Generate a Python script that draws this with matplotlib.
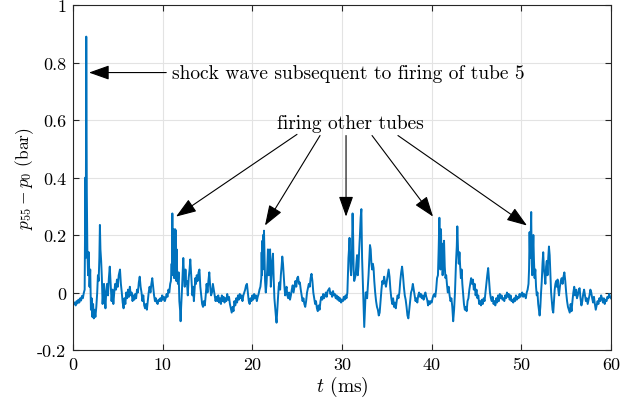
import matplotlib
matplotlib.use("Agg")
import matplotlib.pyplot as plt

plt.rcParams['font.family'] = ['cmr10', 'DejaVu Serif']
plt.rcParams['mathtext.fontset'] = 'cm'
plt.rcParams['axes.formatter.use_mathtext'] = True

# ---- data ----
t_ms = [
    0.00, 0.10, 0.20, 0.30, 0.40, 0.50, 0.60, 0.70, 0.80, 0.90, 1.00, 1.10, 1.20, 1.30,
    1.38, 1.42, 1.48, 1.54, 1.60, 1.68, 1.76, 1.84, 1.92, 2.00, 2.08, 2.16, 2.24, 2.32,
    2.40, 2.50, 2.60, 2.70, 2.78, 2.86, 2.94, 3.00, 3.06, 3.14, 3.22, 3.30, 3.38, 3.46,
    3.54, 3.62, 3.70, 3.80, 3.90, 4.00, 4.10, 4.20, 4.30, 4.40, 4.50, 4.60, 4.70, 4.80,
    4.90, 5.00, 5.10, 5.24, 5.34, 5.44, 5.54, 5.64, 5.74, 5.84, 5.94, 6.04, 6.14, 6.24,
    6.34, 6.44, 6.54, 6.64, 6.74, 6.84, 6.94, 7.04, 7.14, 7.24, 7.34, 7.44, 7.54, 7.64,
    7.74, 7.84, 7.94, 8.04, 8.14, 8.24, 8.34, 8.44, 8.54, 8.64, 8.74, 8.84, 8.94, 9.04,
    9.14, 9.24, 9.34, 9.44, 9.54, 9.64, 9.74, 9.84, 9.94, 10.04, 10.14, 10.24, 10.34,
    10.44, 10.54, 10.64, 10.74, 10.84, 10.92, 11.00, 11.04, 11.08, 11.12, 11.16, 11.20,
    11.24, 11.28, 11.32, 11.36, 11.40, 11.44, 11.48, 11.52, 11.56, 11.62, 11.70, 11.78,
    11.86, 11.94, 12.00, 12.06, 12.14, 12.22, 12.30, 12.38, 12.46, 12.54, 12.62, 12.70,
    12.80, 12.90, 13.00, 13.08, 13.16, 13.24, 13.32, 13.40, 13.48, 13.56, 13.64, 13.72,
    13.80, 13.90, 14.00, 14.10, 14.20, 14.30, 14.40, 14.50, 14.60, 14.70, 14.80, 14.90,
    15.00, 15.10, 15.20, 15.30, 15.40, 15.50, 15.60, 15.70, 15.80, 15.90, 16.00, 16.10,
    16.20, 16.30, 16.40, 16.50, 16.60, 16.70, 16.80, 16.90, 17.00, 17.10, 17.20, 17.30,
    17.40, 17.50, 17.60, 17.70, 17.80, 17.90, 18.00, 18.10, 18.20, 18.30, 18.40, 18.50,
    18.60, 18.70, 18.80, 18.90, 19.00, 19.10, 19.20, 19.30, 19.40, 19.50, 19.60, 19.70,
    19.80, 19.90, 20.00, 20.10, 20.20, 20.30, 20.40, 20.50, 20.60, 20.70, 20.80, 20.90,
    21.00, 21.04, 21.08, 21.12, 21.16, 21.20, 21.24, 21.30, 21.36, 21.42, 21.50, 21.58,
    21.66, 21.74, 21.82, 21.90, 21.98, 22.06, 22.14, 22.22, 22.30, 22.38, 22.46, 22.54,
    22.62, 22.70, 22.78, 22.86, 22.94, 23.02, 23.10, 23.18, 23.26, 23.34, 23.42, 23.50,
    23.58, 23.66, 23.74, 23.82, 23.90, 24.00, 24.10, 24.20, 24.30, 24.40, 24.50, 24.60,
    24.70, 24.80, 24.90, 25.00, 25.10, 25.20, 25.30, 25.40, 25.50, 25.60, 25.70, 25.80,
    25.90, 26.00, 26.10, 26.20, 26.30, 26.40, 26.50, 26.60, 26.70, 26.80, 26.90, 27.00,
    27.10, 27.20, 27.30, 27.40, 27.50, 27.60, 27.70, 27.80, 27.90, 28.00, 28.10, 28.20,
    28.30, 28.40, 28.50, 28.60, 28.70, 28.80, 28.90, 29.00, 29.10, 29.20, 29.30, 29.40,
    29.50, 29.60, 29.70, 29.80, 29.90, 30.00, 30.10, 30.20, 30.30, 30.40, 30.50, 30.60,
    30.66, 30.72, 30.78, 30.84, 30.90, 30.96, 31.02, 31.10, 31.18, 31.24, 31.30, 31.36,
    31.44, 31.52, 31.60, 31.68, 31.76, 31.84, 31.92, 32.00, 32.08, 32.16, 32.24, 32.32,
    32.40, 32.48, 32.56, 32.64, 32.72, 32.80, 32.88, 32.96, 33.04, 33.12, 33.20, 33.28,
    33.36, 33.44, 33.52, 33.60, 33.70, 33.80, 33.90, 34.00, 34.10, 34.20, 34.30, 34.40,
    34.50, 34.60, 34.70, 34.80, 34.90, 35.00, 35.10, 35.20, 35.30, 35.40, 35.50, 35.60,
    35.70, 35.80, 35.90, 36.00, 36.10, 36.20, 36.30, 36.40, 36.50, 36.60, 36.70, 36.80,
    36.90, 37.00, 37.10, 37.20, 37.30, 37.40, 37.50, 37.60, 37.70, 37.80, 37.90, 38.00,
    38.10, 38.20, 38.30, 38.40, 38.50, 38.60, 38.70, 38.80, 38.90, 39.00, 39.10, 39.20,
    39.30, 39.40, 39.50, 39.60, 39.70, 39.80, 39.90, 40.00, 40.10, 40.20, 40.30, 40.40,
    40.50, 40.60, 40.70, 40.78, 40.86, 40.92, 40.98, 41.04, 41.10, 41.16, 41.22, 41.30,
    41.38, 41.46, 41.54, 41.62, 41.70, 41.80, 41.90, 42.00, 42.10, 42.20, 42.30, 42.40,
    42.50, 42.60, 42.66, 42.72, 42.80, 42.86, 42.94, 43.02, 43.10, 43.18, 43.26, 43.34,
    43.42, 43.50, 43.60, 43.70, 43.80, 43.90, 44.00, 44.10, 44.20, 44.30, 44.40, 44.50,
    44.60, 44.70, 44.80, 44.90, 45.00, 45.10, 45.20, 45.30, 45.40, 45.50, 45.60, 45.70,
    45.80, 45.90, 46.00, 46.10, 46.20, 46.30, 46.40, 46.50, 46.60, 46.70, 46.80, 46.90,
    47.00, 47.10, 47.20, 47.30, 47.40, 47.50, 47.60, 47.70, 47.80, 47.90, 48.00, 48.10,
    48.20, 48.30, 48.40, 48.50, 48.60, 48.70, 48.80, 48.90, 49.00, 49.10, 49.20, 49.30,
    49.40, 49.50, 49.60, 49.70, 49.80, 49.90, 50.00, 50.10, 50.20, 50.30, 50.40, 50.50,
    50.60, 50.70, 50.80, 50.86, 50.92, 50.98, 51.04, 51.10, 51.16, 51.22, 51.28, 51.34,
    51.40, 51.48, 51.56, 51.64, 51.72, 51.80, 51.88, 51.96, 52.04, 52.12, 52.20, 52.28,
    52.36, 52.44, 52.52, 52.60, 52.68, 52.76, 52.84, 52.92, 53.00, 53.08, 53.16, 53.24,
    53.32, 53.40, 53.48, 53.56, 53.64, 53.72, 53.80, 53.88, 53.96, 54.04, 54.12, 54.20,
    54.30, 54.40, 54.50, 54.60, 54.70, 54.80, 54.90, 55.00, 55.10, 55.20, 55.30, 55.40,
    55.50, 55.60, 55.70, 55.80, 55.90, 56.00, 56.10, 56.20, 56.30, 56.40, 56.50, 56.60,
    56.70, 56.80, 56.90, 57.00, 57.10, 57.20, 57.30, 57.40, 57.50, 57.60, 57.70, 57.80,
    57.90, 58.00, 58.10, 58.20, 58.30, 58.40, 58.50, 58.60, 58.70, 58.80, 58.90, 59.00,
    59.10, 59.20, 59.30, 59.40, 59.50, 59.60, 59.70, 59.80, 59.90, 60.00,
]
p_bar = [
    -0.030, -0.040, -0.035, -0.045, -0.030, -0.038, -0.025, -0.035, -0.020, -0.028, -0.012, -0.020, -0.002, 0.010,
    0.400, 0.120, 0.890, 0.350, 0.150, 0.060, 0.140, 0.020, 0.080, -0.060, -0.020, -0.085, -0.040, -0.090,
    -0.060, -0.085, -0.050, 0.000, 0.060, 0.040, 0.120, 0.235, 0.150, 0.110, 0.050, -0.040, 0.000, 0.030,
    -0.020, -0.055, 0.000, 0.030, -0.010, 0.050, 0.090, 0.030, -0.030, 0.010, -0.040, 0.000, 0.030, 0.010,
    0.045, 0.020, 0.060, 0.080, 0.030, 0.000, -0.035, -0.055, -0.020, -0.040, 0.000, -0.020, 0.010, -0.015,
    0.020, -0.010, 0.000, -0.030, -0.010, -0.025, -0.005, -0.020, 0.010, 0.000, 0.035, 0.055, 0.020, 0.000,
    -0.030, -0.010, -0.045, -0.055, -0.040, -0.060, -0.030, 0.000, 0.020, 0.000, 0.030, 0.050, 0.020, -0.010,
    -0.030, -0.020, -0.035, -0.040, -0.025, -0.030, -0.020, -0.030, -0.010, -0.025, -0.015, -0.030, -0.020,
    -0.005, -0.015, 0.010, 0.000, 0.030, 0.040, 0.100, 0.060, 0.275, 0.080, 0.200, 0.060,
    0.220, 0.050, 0.210, 0.100, 0.220, 0.070, 0.215, 0.040, 0.150, 0.060, 0.030, 0.070,
    -0.030, -0.060, -0.100, -0.050, 0.000, 0.060, 0.120, 0.060, 0.020, 0.080, 0.030, 0.040,
    -0.010, 0.050, 0.080, 0.115, 0.070, 0.030, -0.010, 0.020, -0.030, 0.010, 0.050, 0.030,
    0.060, 0.040, 0.070, 0.080, 0.020, -0.010, -0.040, -0.050, -0.030, -0.045, -0.010, 0.030,
    0.000, 0.040, 0.070, 0.020, -0.010, 0.000, 0.030, 0.010, -0.010, -0.030, -0.015, -0.030,
    -0.010, -0.035, -0.020, -0.040, -0.010, -0.030, -0.015, -0.035, -0.020, -0.030, -0.005, -0.025,
    -0.015, -0.040, -0.055, -0.070, -0.050, -0.065, -0.030, -0.045, -0.020, -0.035, -0.010, -0.025,
    -0.005, -0.020, -0.010, -0.030, -0.010, 0.000, 0.010, 0.025, 0.030, 0.000, -0.030, -0.040,
    -0.020, -0.030, -0.010, -0.025, -0.005, -0.020, -0.010, -0.030, -0.015, -0.005, 0.010, 0.020,
    0.050, 0.140, 0.060, 0.180, 0.080, 0.200, 0.110, 0.215, 0.120, 0.040, 0.000, 0.030,
    0.080, 0.150, 0.060, 0.120, 0.150, 0.020, 0.060, 0.110, 0.135, 0.050, -0.020, -0.050,
    -0.080, -0.105, -0.060, -0.020, 0.020, 0.035, 0.010, 0.060, 0.090, 0.125, 0.100, 0.060,
    0.020, -0.010, 0.010, 0.020, -0.010, -0.020, 0.000, -0.025, -0.010, 0.010, 0.025, 0.000,
    0.020, 0.040, 0.020, 0.050, 0.055, 0.030, 0.035, 0.010, -0.010, -0.030, -0.020, -0.040,
    -0.050, -0.030, 0.000, 0.015, 0.030, 0.020, 0.050, 0.065, 0.040, 0.000, -0.020, -0.040,
    -0.030, -0.055, -0.065, -0.045, -0.060, -0.030, -0.015, -0.025, -0.005, -0.020, -0.010, 0.000,
    -0.015, 0.005, 0.010, 0.015, -0.005, 0.000, -0.015, 0.005, -0.010, -0.005, -0.020, -0.010,
    -0.025, -0.015, -0.030, -0.020, -0.035, -0.025, -0.030, -0.015, -0.025, -0.010, -0.020, 0.000,
    0.060, 0.120, 0.150, 0.190, 0.140, 0.080, 0.060, 0.120, 0.275, 0.200, 0.080, 0.040,
    0.050, 0.060, 0.100, 0.130, 0.060, 0.090, 0.150, 0.200, 0.260, 0.290, 0.120, 0.040,
    -0.050, -0.120, -0.060, 0.000, 0.000, -0.020, 0.020, 0.060, 0.110, 0.165, 0.150, 0.100,
    0.080, 0.100, 0.085, 0.040, 0.000, -0.030, -0.050, -0.060, -0.080, -0.070, -0.030, 0.010,
    0.040, 0.030, 0.055, 0.035, 0.020, 0.040, 0.060, 0.080, 0.055, 0.010, -0.020, -0.040,
    -0.020, -0.050, -0.035, -0.055, -0.030, -0.010, -0.020, 0.000, 0.040, 0.070, 0.090, 0.060,
    0.020, -0.010, -0.025, -0.050, -0.080, -0.090, -0.060, -0.030, 0.000, 0.010, 0.030, 0.010,
    -0.010, -0.030, -0.020, -0.035, -0.010, 0.000, -0.015, -0.005, -0.020, -0.010, -0.025, -0.010,
    0.000, -0.015, -0.025, -0.045, -0.030, -0.040, -0.030, -0.035, -0.020, -0.010, -0.005, -0.015,
    0.010, 0.050, 0.060, 0.150, 0.260, 0.160, 0.080, 0.220, 0.100, 0.170, 0.060, 0.120,
    0.180, 0.090, 0.050, 0.060, 0.030, 0.000, 0.020, -0.010, -0.030, -0.020, -0.050, -0.100,
    -0.060, 0.000, 0.060, 0.110, 0.160, 0.230, 0.150, 0.100, 0.140, 0.090, 0.050, 0.080,
    0.030, 0.000, -0.040, -0.060, -0.050, -0.065, -0.030, -0.020, 0.010, 0.030, 0.050, 0.030,
    0.045, 0.010, 0.030, -0.010, 0.010, -0.020, -0.010, -0.040, -0.030, -0.045, -0.025, -0.040,
    -0.020, -0.030, 0.000, 0.030, 0.060, 0.085, 0.040, 0.000, -0.020, -0.030, -0.015, -0.040,
    -0.030, -0.045, -0.020, -0.035, -0.010, -0.030, -0.005, -0.020, -0.010, -0.025, -0.020, -0.030,
    -0.010, -0.020, 0.000, -0.015, -0.005, -0.025, -0.010, -0.030, -0.025, -0.035, -0.020, -0.030,
    -0.010, -0.025, -0.015, -0.020, -0.005, -0.015, -0.005, 0.000, -0.015, -0.005, -0.010, -0.020,
    0.000, 0.010, 0.030, 0.080, 0.210, 0.120, 0.180, 0.280, 0.100, 0.060, 0.140, 0.200,
    0.120, 0.050, 0.080, 0.020, -0.010, 0.000, -0.040, -0.060, -0.080, -0.050, 0.000, 0.040,
    0.100, 0.140, 0.080, 0.060, 0.030, 0.090, 0.110, 0.060, 0.120, 0.160, 0.130, 0.060,
    0.000, -0.030, -0.060, -0.070, -0.030, 0.010, 0.030, 0.040, 0.020, 0.045, 0.010, -0.010,
    0.020, 0.040, 0.050, 0.030, 0.055, 0.070, 0.040, 0.000, -0.030, -0.050, -0.060, -0.070,
    -0.040, -0.065, -0.030, 0.000, 0.020, -0.010, 0.010, -0.020, -0.010, 0.010, 0.015, -0.020,
    -0.045, -0.030, -0.005, 0.010, -0.010, -0.030, -0.020, -0.040, -0.025, -0.010, 0.010, 0.000,
    -0.020, -0.035, -0.015, -0.040, -0.060, -0.045, -0.030, -0.040, -0.020, -0.030, -0.010, -0.020,
    -0.035, -0.020, -0.040, -0.025, -0.030, -0.015, -0.020, -0.005, -0.015, -0.020,
]

x_ticks = [0, 10, 20, 30, 40, 50, 60]
y_ticks = [-0.2, 0, 0.2, 0.4, 0.6, 0.8, 1]
y_tick_labels = ['-0.2', '0', '0.2', '0.4', '0.6', '0.8', '1']

# annotation anchors (data units)
shock_text = 'shock wave subsequent to firing of tube 5'
shock_tip = (1.78, 0.765)
shock_tail = (10.4, 0.765)
other_text = 'firing other tubes'
other_text_pos = (30.9, 0.588)
other_tails = [(24.98, 0.55), (27.55, 0.546), (30.45, 0.546), (33.35, 0.546), (36.24, 0.546)]
other_tips = [(11.49, 0.264), (21.41, 0.233), (30.45, 0.264), (40.15, 0.264), (50.63, 0.233)]

# ---- figure ----
fig = plt.figure(figsize=(6.2, 4.1), dpi=100)
ax = fig.add_axes([73 / 620, 59 / 410, 538 / 620, 345 / 410])

ax.plot(t_ms, p_bar, color='#0072BD', lw=1.4)

ax.set_xlim(0, 60)
ax.set_ylim(-0.2, 1)
ax.set_xticks(x_ticks)
ax.set_xticklabels([str(v) for v in x_ticks])
ax.set_yticks(y_ticks)
ax.set_yticklabels(y_tick_labels)
ax.grid(True, color='#e3e3e3', lw=0.8)
ax.set_axisbelow(True)
ax.tick_params(direction='in', top=True, right=True, length=4, width=0.8,
               labelsize=13, colors='#262626', labelcolor='black', pad=5)
for s in ax.spines.values():
    s.set_color('#262626')
    s.set_linewidth(0.8)

ax.set_xlabel(r'$t$ (ms)', fontsize=14, labelpad=1)
ax.set_ylabel(r'$p_{55} - p_0$ (bar)', fontsize=12.5, labelpad=1)

arrow_kw = dict(arrowstyle='-|>,head_length=0.9,head_width=0.32', color='black',
                lw=0.8, shrinkA=0, shrinkB=0, mutation_scale=14)

ax.annotate('', xy=shock_tip, xytext=shock_tail, arrowprops=arrow_kw)
ax.text(shock_tail[0] + 0.6, shock_tail[1], shock_text, fontsize=14,
        ha='left', va='center')

ax.text(other_text_pos[0], other_text_pos[1], other_text, fontsize=14,
        ha='center', va='center')
for tail, tip in zip(other_tails, other_tips):
    ax.annotate('', xy=tip, xytext=tail, arrowprops=arrow_kw)

fig.savefig('out.png', dpi=100)
